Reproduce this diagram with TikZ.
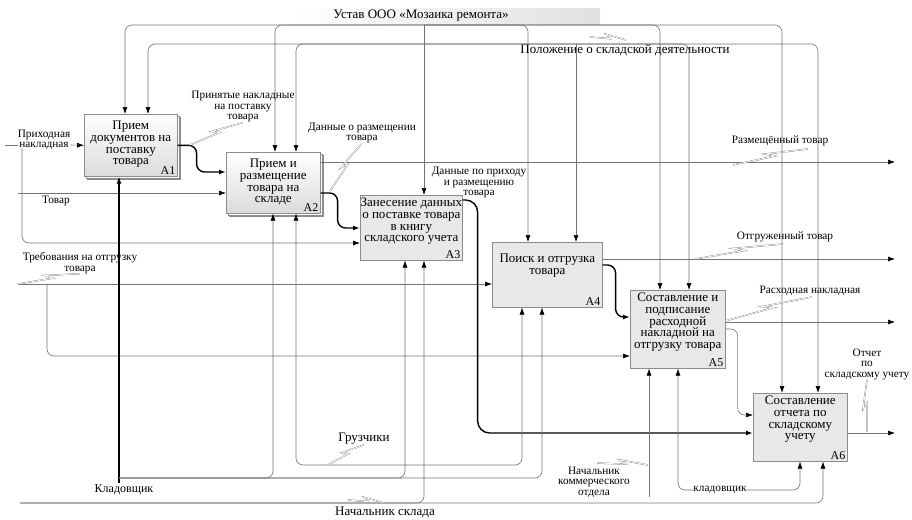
\documentclass[tikz,border=0pt]{standalone}
\usepackage{fontspec}
\setmainfont{Liberation Serif}
\usetikzlibrary{arrows.meta,positioning,calc,shadows}

\tikzset{
  proc/.style={draw=black!45, fill=black!9, line width=0.6pt, inner sep=0pt, anchor=north west},
  procsh/.style={proc, top color=white, bottom color=black!14,
    double copy shadow={shadow xshift=1.5pt, shadow yshift=-1.5pt, draw=black!45, fill=white}},
  ptext/.style={anchor=north, align=center, inner sep=0pt, yshift=-3pt,
    font=\fontsize{13}{11.7}\selectfont},
  pnum/.style={anchor=south east, inner sep=2pt, font=\fontsize{12}{12}\selectfont},
  lbl/.style={align=center, inner sep=0pt, font=\fontsize{11.3}{10.5}\selectfont},
  big/.style={inner sep=0pt, font=\fontsize{13}{13}\selectfont},
  wire/.style={draw=black!55, line width=0.6pt, rounded corners=7pt},
  heavy/.style={draw=black, line width=1.4pt, rounded corners=8pt},
  arr/.style={-{Latex[length=7pt,width=5pt,color=black]}},
  squig/.style={draw=black!55, line width=0.3pt, double=white, double distance=0.8pt}
}
\newcommand{\squig}[2]{\draw[squig] (#1) -- ($(#1)!.56!(#2)$) -- ($(#1)!.44!(#2)!4pt!90:(#2)$) -- (#2);}

\begin{document}
\begin{tikzpicture}[x=1pt, y=-1pt]
    \useasboundingbox (0,0) rectangle (912,519);

    % Boxes
    \node[procsh, minimum width=93pt, minimum height=62pt,
      label={[ptext,yshift=-4pt]north:{Прием\\документов на\\поставку\\товара}},
      label={[pnum]south east:A1}] (A1) at (84,114) {};
    \node[procsh, minimum width=94pt, minimum height=61pt,
      label={[ptext,yshift=-4pt]north:{Прием и\\размещение\\товара на\\складе}},
      label={[pnum]south east:A2}] (A2) at (226,152) {};
    \node[proc, minimum width=102pt, minimum height=65pt,
      label={[ptext]north:{Занесение данных\\о поставке товара\\в книгу\\складского учета}},
      label={[pnum]south east:A3}] (A3) at (360,195) {};
    \node[proc, minimum width=110pt, minimum height=65pt,
      label={[ptext,yshift=-9pt]north:{Поиск и отгрузка\\товара}},
      label={[pnum]south east:A4}] (A4) at (492,242) {};
    \node[proc, minimum width=95pt, minimum height=78pt,
      label={[ptext]north:{Составление и\\подписание\\расходной\\накладной на\\отгрузку товара}},
      label={[pnum]south east:A5}] (A5) at (630,290) {};
    \node[proc, minimum width=94pt, minimum height=68pt,
      label={[ptext]north:{Составление\\отчета по\\складскому\\учету}},
      label={[pnum]south east:A6}] (A6) at (753,393) {};

    % Inputs
    \coordinate (inPN) at (5,145);
    \node[lbl] (lPN) at (44,140) {Приходная\\накладная};
    \draw[wire] (inPN) -- (inPN -| lPN.west);
    \draw[wire,arr] (lPN.east |- inPN) -- (A1.west);
    \coordinate (jPN) at (22,148);
    \draw[wire,arr] (jPN) |- ($(A3.north west)+(0,48)$);

    \coordinate (inTov) at (18,193);
    \node[lbl] (lTov) at (56,201) {Товар};
    \draw[wire,arr] (inTov) -- ($(A2.north west)+(0,41)$);

    \coordinate (inTreb) at (18,284);
    \node[lbl] (lTreb) at (80,263) {Требования на отгрузку\\товара};
    \draw[wire,arr] (inTreb) -- ($(A4.north west)+(0,42)$);
    \coordinate (jTreb) at (47,284);
    \draw[wire,arr] (jTreb) |- ($(A5.north west)+(0,66)$);
    \squig{inTreb}{lTreb.south}

    % Controls
    \shade[left color=white, right color=black!12] (297,9) rectangle (600,25);
    \node[big] (lUst) at (421,16) {Устав ООО «Мозаика ремонта»};
    \coordinate (jUst) at (424,25);
    \draw[wire,arr] (jUst) -| ($(A1.north west)+(41,0)$);
    \draw[wire,arr] (jUst) -| ($(A2.north west)+(49,0)$);
    \draw[wire,arr] (jUst) -- ($(A3.north west)+(64,0)$);
    \draw[wire,arr] (jUst) -| ($(A4.north west)+(36,0)$);
    \draw[wire,arr] (jUst) -| ($(A5.north west)+(30,0)$);
    \draw[wire,arr] (jUst) -| ($(A6.north west)+(29,0)$);

    \node[big] (lPol) at (625,50) {Положение о складской деятельности};
    \coordinate (jPol) at (576,44);
    \draw[wire,arr] (jPol) -| ($(A1.north west)+(64,0)$);
    \draw[wire,arr] (jPol) -| ($(A2.north west)+(70,0)$);
    \draw[wire,arr] (jPol) -- ($(A4.north west)+(84,0)$);
    \draw[wire,arr] (jPol) -| ($(A5.north west)+(59,0)$);
    \draw[wire,arr] (jPol) -| ($(A6.north west)+(65,0)$);
    \coordinate (sqPolA) at (590,37);
    \coordinate (sqPolB) at (626,40);
    \squig{sqPolA}{sqPolB}

    % Outputs
    \draw[heavy,arr] (A1.east) -- ++(19,0) |- ($(A2.north west)+(0,20)$);
    \node[lbl] (lPrin) at (243,107) {Принятые накладные\\на поставку\\товара};
    \coordinate (sqPrin) at (190,145);
    \squig{sqPrin}{lPrin.south}

    \coordinate (outRazm) at (895,162);
    \draw[wire,arr] ($(A2.north east)+(0,10)$) -- (outRazm);
    \node[lbl] (lRazm) at (780,141) {Размещённый товар};
    \coordinate (sqRazmA) at (733,165);
    \coordinate (sqRazmB) at (808,149);
    \squig{sqRazmA}{sqRazmB}

    \draw[heavy,arr] ($(A2.north east)+(0,41)$) -- ++(17,0) |- ($(A3.north west)+(0,33)$);
    \node[lbl] (lDanR) at (362,133) {Данные о размещении\\товара};
    \coordinate (sqDanR) at (330,191);
    \squig{sqDanR}{lDanR.south}

    \draw[heavy,arr,rounded corners=12pt] ($(A3.north east)+(0,5)$) -- ++(15,0) |- ($(A6.north west)+(0,40)$);
    \node[lbl] (lDanP) at (479,183) {Данные по приходу\\и размещению\\товара};

    \coordinate (outOtgr) at (895,259);
    \draw[wire,arr] ($(A4.north east)+(0,17)$) -- (outOtgr);
    \node[lbl] (lOtgr) at (785,237) {Отгруженный товар};
    \coordinate (sqOtgrA) at (695,259);
    \coordinate (sqOtgrB) at (783,244);
    \squig{sqOtgrA}{sqOtgrB}

    \draw[heavy,arr] ($(A4.north east)+(0,23)$) -- ++(13,0) |- ($(A5.north west)+(0,27)$);

    \coordinate (outRash) at (895,322);
    \draw[wire,arr] ($(A5.north east)+(0,32)$) -- (outRash);
    \node[lbl] (lRash) at (810,291) {Расходная накладная};
    \coordinate (sqRashA) at (725,321);
    \coordinate (sqRashB) at (812,297);
    \squig{sqRashA}{sqRashB}

    \draw[wire,arr] ($(A5.north east)+(0,39)$) -- ++(12,0) |- ($(A6.north west)+(0,22)$);

    \coordinate (outOtch) at (895,433);
    \draw[wire,arr] ($(A6.north east)+(0,40)$) -- (outOtch);
    \node[lbl] (lOtch) at (867,364) {Отчет\\по\\складскому учету};
    \coordinate (sqOtch) at (867,432);
    \squig{sqOtch}{lOtch.south}

    % Mechanisms
    \node[lbl, font=\fontsize{12}{12}\selectfont] (lKlad) at (124,490) {Кладовщик};
    \coordinate (mKlad) at (119,483);
    \draw[heavy,arr] (mKlad) -- ($(A1.south west)+(35,0)$);
    \coordinate (jKlad) at (119,478);
    \draw[wire,arr] (jKlad) -| ($(A2.south west)+(47,0)$);
    \draw[wire,arr] (jKlad) -| ($(A3.south west)+(45,0)$);
    \draw[wire,arr] (jKlad) -| ($(A4.south west)+(50,0)$);

    \node[big] (lGruz) at (364,439) {Грузчики};
    \coordinate (jGruz) at (328,465);
    \draw[wire,arr] (jGruz) -| ($(A2.south west)+(70,0)$);
    \draw[wire,arr] (jGruz) -| ($(A4.south west)+(30,0)$);
    \squig{jGruz}{lGruz.south}

    \node[big] (lNach) at (385,512) {Начальник склада};
    \coordinate (mNach) at (20,503);
    \draw[wire,arr] (mNach) -| ($(A3.south west)+(64,0)$);
    \draw[wire,arr] (mNach) -| ($(A6.south west)+(70,0)$);
    \coordinate (sqNachA) at (348,500);
    \coordinate (sqNachB) at (384,503);
    \squig{sqNachA}{sqNachB}

    \node[lbl] (lNko) at (594,482) {Начальник\\коммерческого\\отдела};
    \coordinate (mNko) at (649,497);
    \draw[wire,arr] (mNko) -- ($(A5.south west)+(19,0)$);
    \coordinate (sqNkoA) at (597,463);
    \coordinate (sqNkoB) at (648,465);
    \squig{sqNkoA}{sqNkoB}

    \node[lbl] (lKl2) at (720,490) {кладовщик};
    \draw[wire,arr] (lKl2.west) -| ($(A5.south west)+(48,0)$);
    \draw[wire,arr] (lKl2.east) -| ($(A6.south west)+(47,0)$);
\end{tikzpicture}
\end{document}
